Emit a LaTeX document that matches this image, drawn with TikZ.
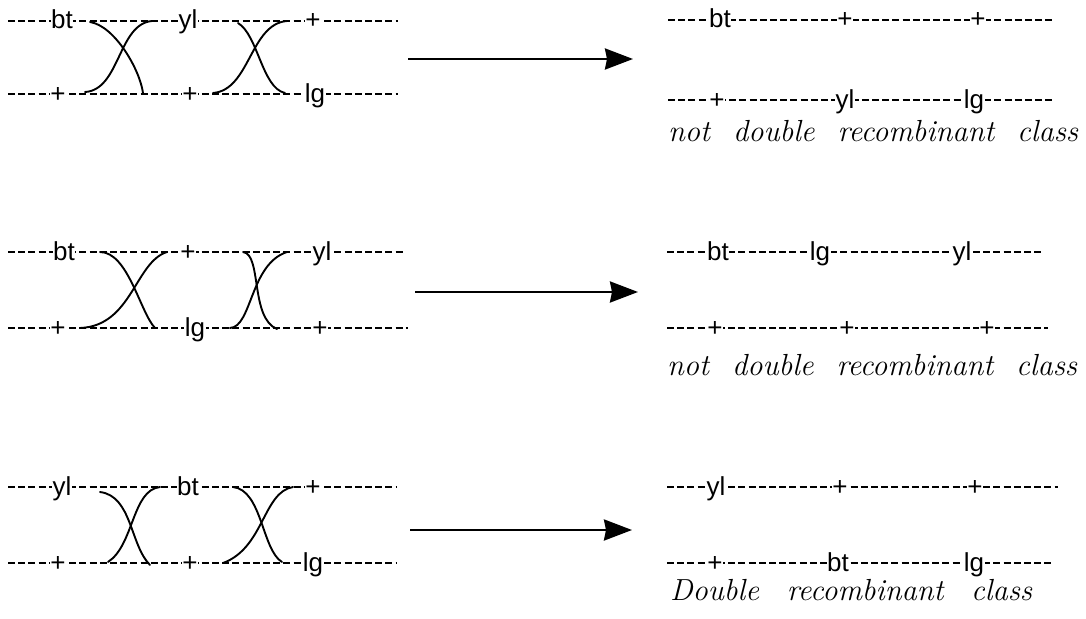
\documentclass[tikz,border=0pt]{standalone}
\usepackage{fontspec}
\setsansfont{Liberation Sans}
\usetikzlibrary{arrows.meta}
\tikzset{
 chrom/.style={line width=1.8pt, dash pattern=on 7pt off 3.2pt},
 gene/.style={font=\sffamily\fontsize{26}{29}\selectfont, fill=white, inner xsep=0.5pt, inner ysep=0pt, anchor=base},
 xover/.style={line width=1.9pt, line cap=round},
 bigarrow/.style={line width=2.6pt, -{Stealth[length=28pt,width=21pt,inset=2pt]}},
 cls/.style={font=\itshape\fontsize{30.5}{34}\selectfont, anchor=base west, inner sep=0pt},
}
\begin{document}
\begin{tikzpicture}[x=1pt,y=-1pt]
\useasboundingbox (0,0) rectangle (1086,618);
% ---------- left chromosomes ----------
\coordinate (L1ta) at (8,21);  \coordinate (L1tb) at (398,21);
\coordinate (L1ba) at (8,94);  \coordinate (L1bb) at (398,94);
\coordinate (L2ta) at (8,252); \coordinate (L2tb) at (405,252);
\coordinate (L2ba) at (8,328); \coordinate (L2bb) at (408,328);
\coordinate (L3ta) at (8,487); \coordinate (L3tb) at (397,487);
\coordinate (L3ba) at (8,563); \coordinate (L3bb) at (397,563);
\draw[chrom] (L1ta) -- (L1tb);
\draw[chrom] (L1ba) -- (L1bb);
\draw[chrom] (L2ta) -- (L2tb);
\draw[chrom] (L2ba) -- (L2bb);
\draw[chrom] (L3ta) -- (L3tb);
\draw[chrom] (L3ba) -- (L3bb);
% ---------- right chromosomes ----------
\coordinate (R1ta) at (668,20);  \coordinate (R1tb) at (1052,20);
\coordinate (R1ba) at (668,100); \coordinate (R1bb) at (1054,100);
\coordinate (R2ta) at (667,252); \coordinate (R2tb) at (1043,252);
\coordinate (R2ba) at (667,328); \coordinate (R2bb) at (1048,328);
\coordinate (R3ta) at (667,487); \coordinate (R3tb) at (1058,487);
\coordinate (R3ba) at (667,563); \coordinate (R3bb) at (1053,563);
\draw[chrom] (R1ta) -- (R1tb);
\draw[chrom] (R1ba) -- (R1bb);
\draw[chrom] (R2ta) -- (R2tb);
\draw[chrom] (R2ba) -- (R2bb);
\draw[chrom] (R3ta) -- (R3tb);
\draw[chrom] (R3ba) -- (R3bb);
% ---------- crossovers ----------
% row 1
\draw[xover] (90,22) .. controls (115,26) and (140,70) .. (143,93);
\draw[xover] (85,92) .. controls (120,90) and (118,24) .. (152,21);
\draw[xover] (238,23) .. controls (258,35) and (262,88) .. (285,93);
\draw[xover] (213,93) .. controls (250,90) and (250,24) .. (287,21);
% row 2
\draw[xover] (100,252) .. controls (128,252) and (140,312) .. (155,328);
\draw[xover] (80,328) .. controls (132,326) and (135,262) .. (167,252);
\draw[xover] (243,252) .. controls (262,254) and (250,318) .. (277,329);
\draw[xover] (230,328) .. controls (252,327) and (250,264) .. (287,252);
% row 3
\draw[xover] (100,492) .. controls (132,496) and (130,545) .. (150,565);
\draw[xover] (160,487) .. controls (132,490) and (134,545) .. (108,562);
\draw[xover] (233,487) .. controls (262,490) and (262,550) .. (282,562);
\draw[xover] (293,487) .. controls (263,492) and (264,548) .. (223,563);
% ---------- gene labels, left ----------
\node[gene] (L1bt) at (62,29) {bt};
\node[gene] (L1yl) at (188,29) {yl};
\node[gene] (L1p)  at (313,29) {+};
\node[gene] (L1p1) at (58,102) {+};
\node[gene] (L1p2) at (190,102) {+};
\node[gene] (L1lg) at (315,102) {lg};
\node[gene] (L2bt) at (64,260) {bt};
\node[gene] (L2p)  at (188,260) {+};
\node[gene] (L2yl) at (322,260) {yl};
\node[gene] (L2p1) at (58,336) {+};
\node[gene] (L2lg) at (195,336) {lg};
\node[gene] (L2p2) at (320,336) {+};
\node[gene] (L3yl) at (62,495) {yl};
\node[gene] (L3bt) at (188,495) {bt};
\node[gene] (L3p)  at (313,495) {+};
\node[gene] (L3p1) at (58,571) {+};
\node[gene] (L3p2) at (190,571) {+};
\node[gene] (L3lg) at (313,571) {lg};
% ---------- gene labels, right ----------
\node[gene] (R1bt) at (720,28) {bt};
\node[gene] (R1p1) at (845,28) {+};
\node[gene] (R1p2) at (978,28) {+};
\node[gene] (R1p3) at (717,108) {+};
\node[gene] (R1yl) at (845,108) {yl};
\node[gene] (R1lg) at (974,108) {lg};
\node[gene] (R2bt) at (718,260) {bt};
\node[gene] (R2lg) at (820,260) {lg};
\node[gene] (R2yl) at (962,260) {yl};
\node[gene] (R2p1) at (715,336) {+};
\node[gene] (R2p2) at (847,336) {+};
\node[gene] (R2p3) at (987,336) {+};
\node[gene] (R3yl) at (716,495) {yl};
\node[gene] (R3p1) at (840,495) {+};
\node[gene] (R3p2) at (975,495) {+};
\node[gene] (R3p3) at (715,571) {+};
\node[gene] (R3bt) at (838,571) {bt};
\node[gene] (R3lg) at (974,571) {lg};
% ---------- class captions ----------
\node[cls] (C1) at (668,141) {\hbox to 410pt{not\hfill double\hfill recombinant\hfill class}};
\node[cls] (C2) at (667,375) {\hbox to 410pt{not\hfill double\hfill recombinant\hfill class}};
\node[cls] (C3) at (670,600) {\hbox to 362pt{Double\hfill recombinant\hfill class}};
% ---------- arrows ----------
\coordinate (A1s) at (408,59);  \coordinate (A1e) at (633,59);
\coordinate (A2s) at (415,292); \coordinate (A2e) at (638,292);
\coordinate (A3s) at (410,530); \coordinate (A3e) at (632,530);
\draw[bigarrow] (A1s) -- (A1e);
\draw[bigarrow] (A2s) -- (A2e);
\draw[bigarrow] (A3s) -- (A3e);
\end{tikzpicture}
\end{document}
